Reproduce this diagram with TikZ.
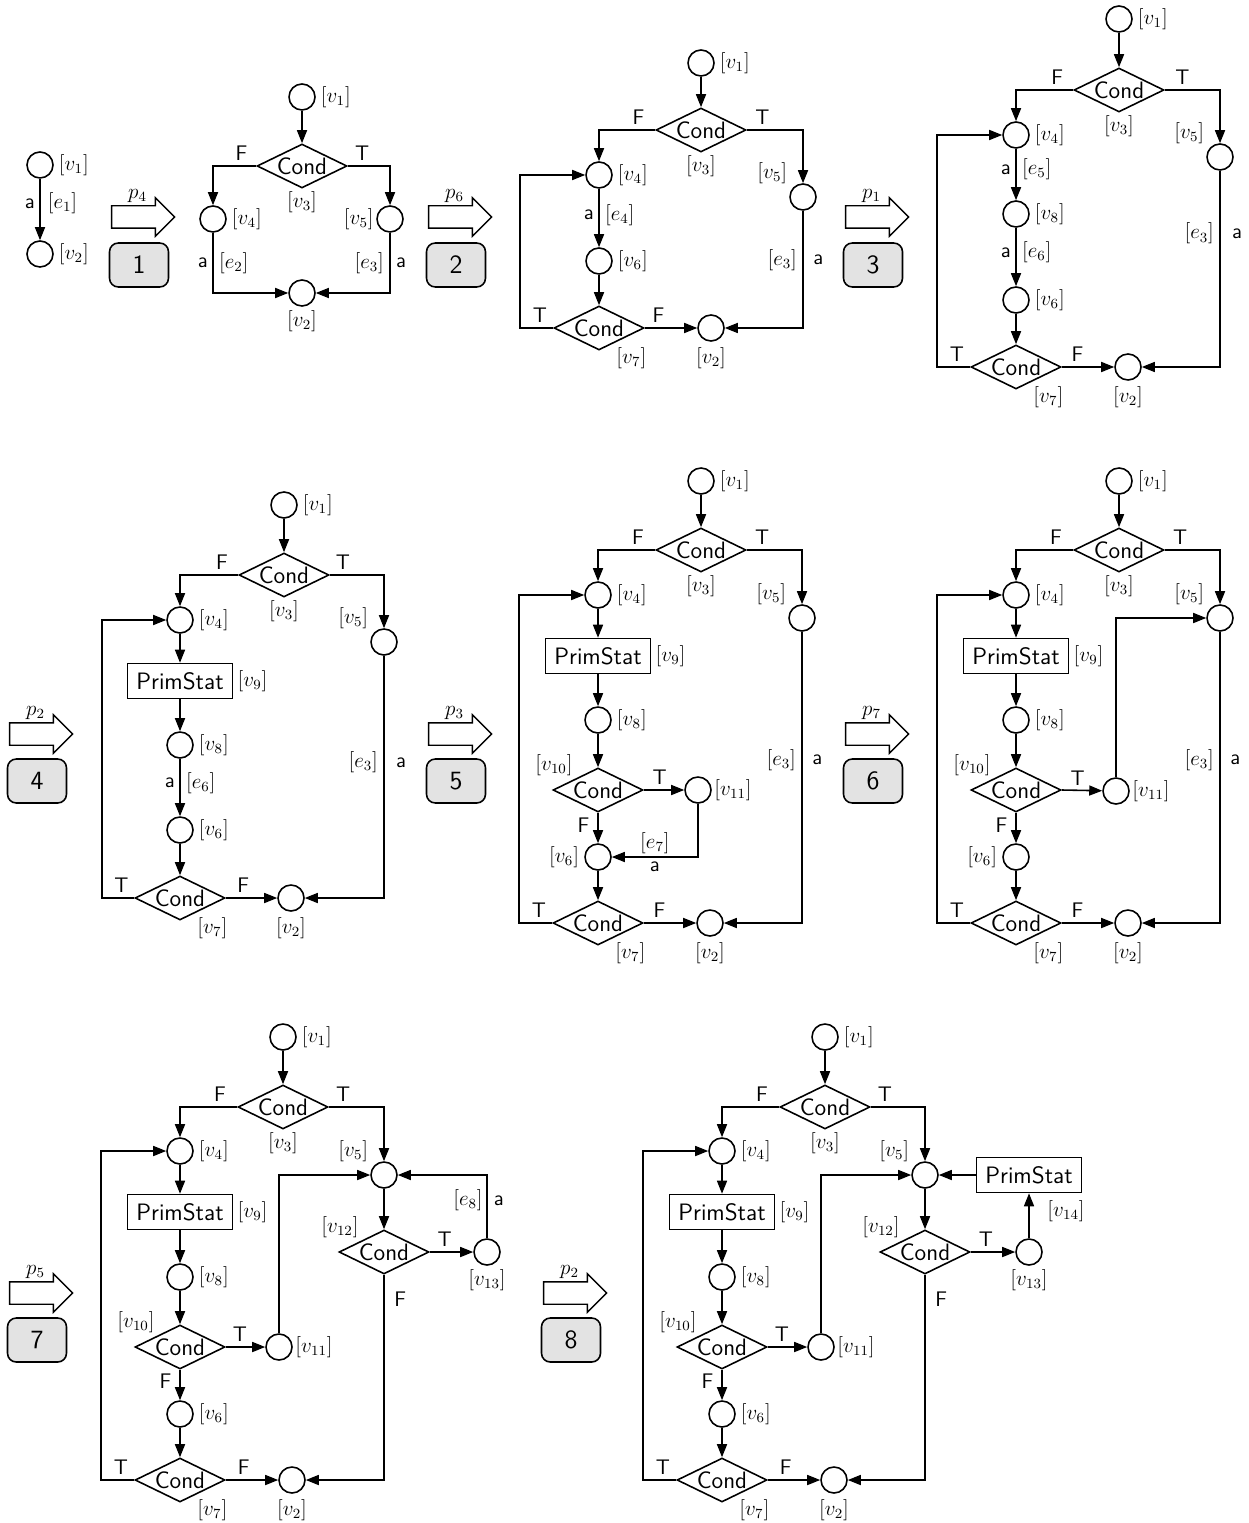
\documentclass[tikz,border=0pt]{standalone}
\usepackage{tikz}
\usetikzlibrary{arrows.meta,positioning,shapes.geometric,shapes.arrows}
\definecolor{stageFill}{HTML}{E3E3E3}

\begin{document}
\begin{tikzpicture}[
    x=0.02cm,y=-0.02cm,
    line width=0.9pt,
    vtx/.style={draw,circle,minimum size=5.2mm,inner sep=0pt},
    cnd/.style={draw,diamond,aspect=2,minimum width=18mm,minimum height=8.8mm,inner sep=0pt,
                font=\fontsize{13.5}{15}\selectfont\sffamily},
    prim/.style={draw,minimum width=21mm,minimum height=7mm,inner sep=0pt,
                 font=\fontsize{13.5}{15}\selectfont\sffamily},
    rarr/.style={draw,single arrow,single arrow head extend=1.6mm,minimum height=12.6mm,
                 inner xsep=0pt,inner ysep=2.1mm,line width=0.8pt},
    stagebox/.style={draw,fill=stageFill,rounded corners=5pt,minimum width=11.8mm,
                     minimum height=8.8mm,font=\fontsize{15}{17}\selectfont\sffamily},
    lbl/.style={inner sep=1pt,font=\fontsize{11.5}{13}\selectfont},
    tf/.style={inner sep=2.5pt,font=\fontsize{12}{14}\selectfont\sffamily},
    ar/.style={-{Stealth[length=2.6mm,width=2mm,inset=0pt]}}
  ]
  \useasboundingbox (0,0) rectangle (1248,1523);

  % ---- start graph
  \node[vtx] (g0v1) at (40,165) {};
  \node[vtx] (g0v2) at (40,254) {};
  \node[lbl,right=1.5pt of g0v1] (g0l1) {$[v_1]$};
  \node[lbl,right=1.5pt of g0v2] (g0l2) {$[v_2]$};
  \draw[ar] (g0v1) -- node[tf,left,pos=0.4] {a} node[lbl,right=3pt,pos=0.4] {$[e_1]$} (g0v2);

  % ---- production steps
  \node[rarr] (t1) at (137.5,217) {};
  \node[rarr] (t2) at (454.5,217) {};
  \node[rarr] (t3) at (871.5,217) {};
  \node[rarr] (t4) at (35.5,734) {};
  \node[rarr] (t5) at (454.5,734) {};
  \node[rarr] (t6) at (871.5,734) {};
  \node[rarr] (t7) at (35.5,1293) {};
  \node[rarr] (t8) at (569.5,1293) {};
  \node[lbl,above=0pt of t1] (t1p) {$p_4$};
  \node[lbl,above=0pt of t2] (t2p) {$p_6$};
  \node[lbl,above=0pt of t3] (t3p) {$p_1$};
  \node[lbl,above=0pt of t4] (t4p) {$p_2$};
  \node[lbl,above=0pt of t5] (t5p) {$p_3$};
  \node[lbl,above=0pt of t6] (t6p) {$p_7$};
  \node[lbl,above=0pt of t7] (t7p) {$p_5$};
  \node[lbl,above=0pt of t8] (t8p) {$p_2$};
  \node[stagebox] (k1) at (139,265) {1};
  \node[stagebox] (k2) at (456,265) {2};
  \node[stagebox] (k3) at (873,265) {3};
  \node[stagebox] (k4) at (37,781) {4};
  \node[stagebox] (k5) at (456,781) {5};
  \node[stagebox] (k6) at (873,781) {6};
  \node[stagebox] (k7) at (37,1340) {7};
  \node[stagebox] (k8) at (571,1340) {8};

  % ---- graph 1
  \node[vtx] (g1v1) at (302,97) {};
  \node[cnd] (g1v3) at (302,166) {Cond};
  \node[vtx] (g1v4) at (213,219) {};
  \node[vtx] (g1v5) at (390,219) {};
  \node[vtx] (g1v2) at (302,293) {};
  \node[lbl,right=1.5pt of g1v1] (g1l1) {$[v_1]$};
  \node[lbl,below=0pt of g1v3] (g1l3) {$[v_3]$};
  \node[lbl,right=1.5pt of g1v4] (g1l4) {$[v_4]$};
  \node[lbl,left=0pt of g1v5] (g1l5) {$[v_5]$};
  \node[lbl,below=0.5pt of g1v2] (g1l2) {$[v_2]$};
  \draw[ar] (g1v1) -- (g1v3);
  \draw[ar] (g1v3.west) -| node[tf,above,pos=0.17] {F} (g1v4);
  \draw[ar] (g1v3.east) -| node[tf,above,pos=0.17] {T} (g1v5);
  \draw[ar] (g1v4) |- node[tf,left,pos=0.25] {a} node[lbl,right=2pt,pos=0.25] {$[e_2]$} (g1v2);
  \draw[ar] (g1v5) |- node[lbl,left=2pt,pos=0.25] {$[e_3]$} node[tf,right=0.5pt,pos=0.25] {a} (g1v2);

  % ---- graph 2
  \node[vtx] (g2v1) at (701,63) {};
  \node[cnd] (g2v3) at (701,130) {Cond};
  \node[vtx] (g2v4) at (599,175) {};
  \node[vtx] (g2v5) at (803,197) {};
  \node[vtx] (g2v6) at (599,261) {};
  \node[cnd] (g2v7) at (599,328) {Cond};
  \node[vtx] (g2v2) at (711,328) {};
  \node[lbl,right=1.5pt of g2v1] (g2l1) {$[v_1]$};
  \node[lbl,below=0pt of g2v3] (g2l3) {$[v_3]$};
  \node[lbl,right=1.5pt of g2v4] (g2l4) {$[v_4]$};
  \node[lbl,above left=0.5pt and 2pt of g2v5] (g2l5) {$[v_5]$};
  \node[lbl,right=1.5pt of g2v6] (g2l6) {$[v_6]$};
  \node[lbl,below right=1.2mm and -1.6mm of g2v7] (g2l7) {$[v_7]$};
  \node[lbl,below=2pt of g2v2] (g2l2) {$[v_2]$};
  \draw[ar] (g2v1) -- (g2v3);
  \draw[ar] (g2v3.west) -| node[tf,above,pos=0.15] {F} (g2v4);
  \draw[ar] (g2v3.east) -| node[tf,above,pos=0.14] {T} (g2v5);
  \draw[ar] (g2v4) -- node[tf,left,pos=0.45] {a} node[lbl,right=2pt,pos=0.45] {$[e_4]$} (g2v6);
  \draw[ar] (g2v6) -- (g2v7);
  \draw[ar] (g2v7.east) -- node[tf,above,pos=0.26] {F} (g2v2);
  \draw[ar] (g2v7.west) -- node[tf,above,pos=0.4] {T} ++(-33,0) |- (g2v4);
  \draw[ar] (g2v5) |- node[lbl,left=2pt,pos=0.21] {$[e_3]$} node[tf,right=3pt,pos=0.21] {a} (g2v2);

  % ---- graph 3
  \node[vtx] (g3v1) at (1119,19) {};
  \node[cnd] (g3v3) at (1119,90) {Cond};
  \node[vtx] (g3v4) at (1016,135) {};
  \node[vtx] (g3v5) at (1220,157) {};
  \node[vtx] (g3v8) at (1016,214) {};
  \node[vtx] (g3v6) at (1016,300) {};
  \node[cnd] (g3v7) at (1016,367) {Cond};
  \node[vtx] (g3v2) at (1128,367) {};
  \node[lbl,right=1.5pt of g3v1] (g3l1) {$[v_1]$};
  \node[lbl,below=0pt of g3v3] (g3l3) {$[v_3]$};
  \node[lbl,right=1.5pt of g3v4] (g3l4) {$[v_4]$};
  \node[lbl,above left=0.5pt and 2pt of g3v5] (g3l5) {$[v_5]$};
  \node[lbl,right=1.5pt of g3v8] (g3l8) {$[v_8]$};
  \node[lbl,right=1.5pt of g3v6] (g3l6) {$[v_6]$};
  \node[lbl,below right=1.2mm and -1.6mm of g3v7] (g3l7) {$[v_7]$};
  \node[lbl,below=2pt of g3v2] (g3l2) {$[v_2]$};
  \draw[ar] (g3v1) -- (g3v3);
  \draw[ar] (g3v3.west) -| node[tf,above,pos=0.14] {F} (g3v4);
  \draw[ar] (g3v3.east) -| node[tf,above,pos=0.16] {T} (g3v5);
  \draw[ar] (g3v4) -- node[tf,left,pos=0.4] {a} node[lbl,right=2pt,pos=0.4] {$[e_5]$} (g3v8);
  \draw[ar] (g3v8) -- node[tf,left,pos=0.42] {a} node[lbl,right=2pt,pos=0.42] {$[e_6]$} (g3v6);
  \draw[ar] (g3v6) -- (g3v7);
  \draw[ar] (g3v7.east) -- node[tf,above,pos=0.3] {F} (g3v2);
  \draw[ar] (g3v7.west) -- node[tf,above,pos=0.4] {T} ++(-33,0) |- (g3v4);
  \draw[ar] (g3v5) |- node[lbl,left=2pt,pos=0.16] {$[e_3]$} node[tf,right=4pt,pos=0.16] {a} (g3v2);

  % ---- graph 4
  \node[vtx] (g4v1) at (284,505) {};
  \node[cnd] (g4v3) at (284,575) {Cond};
  \node[vtx] (g4v4) at (180,620) {};
  \node[vtx] (g4v5) at (384,642) {};
  \node[prim] (g4v9) at (180,681) {PrimStat};
  \node[vtx] (g4v8) at (180,745) {};
  \node[vtx] (g4v6) at (180,830) {};
  \node[cnd] (g4v7) at (180,898) {Cond};
  \node[vtx] (g4v2) at (291,898) {};
  \node[lbl,right=1.5pt of g4v1] (g4l1) {$[v_1]$};
  \node[lbl,below=0pt of g4v3] (g4l3) {$[v_3]$};
  \node[lbl,right=1.5pt of g4v4] (g4l4) {$[v_4]$};
  \node[lbl,above left=0.5pt and 2pt of g4v5] (g4l5) {$[v_5]$};
  \node[lbl,right=1pt of g4v9] (g4l9) {$[v_9]$};
  \node[lbl,right=1.5pt of g4v8] (g4l8) {$[v_8]$};
  \node[lbl,right=1.5pt of g4v6] (g4l6) {$[v_6]$};
  \node[lbl,below right=1.2mm and -1.6mm of g4v7] (g4l7) {$[v_7]$};
  \node[lbl,below=2pt of g4v2] (g4l2) {$[v_2]$};
  \draw[ar] (g4v1) -- (g4v3);
  \draw[ar] (g4v3.west) -| node[tf,above,pos=0.14] {F} (g4v4);
  \draw[ar] (g4v3.east) -| node[tf,above,pos=0.12] {T} (g4v5);
  \draw[ar] (g4v4) -- (g4v9);
  \draw[ar] (g4v9) -- (g4v8);
  \draw[ar] (g4v8) -- node[tf,left,pos=0.42] {a} node[lbl,right=2pt,pos=0.42] {$[e_6]$} (g4v6);
  \draw[ar] (g4v6) -- (g4v7);
  \draw[ar] (g4v7.east) -- node[tf,above,pos=0.34] {F} (g4v2);
  \draw[ar] (g4v7.west) -- node[tf,above,pos=0.4] {T} ++(-32,0) |- (g4v4);
  \draw[ar] (g4v5) |- node[lbl,left=2pt,pos=0.22] {$[e_3]$} node[tf,right=4pt,pos=0.22] {a} (g4v2);

  % ---- graph 5
  \node[vtx] (g5v1) at (701,481) {};
  \node[cnd] (g5v3) at (701,550) {Cond};
  \node[vtx] (g5v4) at (598,595) {};
  \node[vtx] (g5v5) at (802,618) {};
  \node[prim] (g5v9) at (598,656) {PrimStat};
  \node[vtx] (g5v8) at (598,720) {};
  \node[cnd] (g5v10) at (598,790) {Cond};
  \node[vtx] (g5v11) at (698,790) {};
  \node[vtx] (g5v6) at (598,857) {};
  \node[cnd] (g5v7) at (598,923) {Cond};
  \node[vtx] (g5v2) at (710,923) {};
  \node[lbl,right=1.5pt of g5v1] (g5l1) {$[v_1]$};
  \node[lbl,below=0pt of g5v3] (g5l3) {$[v_3]$};
  \node[lbl,right=1.5pt of g5v4] (g5l4) {$[v_4]$};
  \node[lbl,above left=0.5pt and 2pt of g5v5] (g5l5) {$[v_5]$};
  \node[lbl,right=1pt of g5v9] (g5l9) {$[v_9]$};
  \node[lbl,right=1.5pt of g5v8] (g5l8) {$[v_8]$};
  \node[lbl,above left=0pt of g5v10] (g5l10) {$[v_{10}]$};
  \node[lbl,right=0pt of g5v11] (g5l11) {$[v_{11}]$};
  \node[lbl,left=1.5pt of g5v6] (g5l6) {$[v_6]$};
  \node[lbl,below right=1.2mm and -1.6mm of g5v7] (g5l7) {$[v_7]$};
  \node[lbl,below=2pt of g5v2] (g5l2) {$[v_2]$};
  \draw[ar] (g5v1) -- (g5v3);
  \draw[ar] (g5v3.west) -| node[tf,above,pos=0.15] {F} (g5v4);
  \draw[ar] (g5v3.east) -| node[tf,above,pos=0.14] {T} (g5v5);
  \draw[ar] (g5v4) -- (g5v9);
  \draw[ar] (g5v9) -- (g5v8);
  \draw[ar] (g5v8) -- (g5v10);
  \draw[ar] (g5v10.east) -- node[tf,above,pos=0.39] {T} (g5v11);
  \draw[ar] (g5v10) -- node[tf,left=2pt,pos=0.4] {F} (g5v6);
  \draw[ar] (g5v11) |- node[lbl,above=0.5pt,pos=0.75] {$[e_7]$} node[tf,below,pos=0.75] {a} (g5v6);
  \draw[ar] (g5v6) -- (g5v7);
  \draw[ar] (g5v7.east) -- node[tf,above,pos=0.3] {F} (g5v2);
  \draw[ar] (g5v7.west) -- node[tf,above,pos=0.4] {T} ++(-33,0) |- (g5v4);
  \draw[ar] (g5v5) |- node[lbl,left=2pt,pos=0.22] {$[e_3]$} node[tf,right=3pt,pos=0.22] {a} (g5v2);

  % ---- graph 6
  \node[vtx] (g6v1) at (1119,481) {};
  \node[cnd] (g6v3) at (1119,550) {Cond};
  \node[vtx] (g6v4) at (1016,595) {};
  \node[vtx] (g6v5) at (1220,618) {};
  \node[prim] (g6v9) at (1016,656) {PrimStat};
  \node[vtx] (g6v8) at (1016,720) {};
  \node[cnd] (g6v10) at (1016,790) {Cond};
  \node[vtx] (g6v11) at (1116,791) {};
  \node[vtx] (g6v6) at (1016,857) {};
  \node[cnd] (g6v7) at (1016,923) {Cond};
  \node[vtx] (g6v2) at (1128,923) {};
  \node[lbl,right=1.5pt of g6v1] (g6l1) {$[v_1]$};
  \node[lbl,below=0pt of g6v3] (g6l3) {$[v_3]$};
  \node[lbl,right=1.5pt of g6v4] (g6l4) {$[v_4]$};
  \node[lbl,above left=0.5pt and 2pt of g6v5] (g6l5) {$[v_5]$};
  \node[lbl,right=1pt of g6v9] (g6l9) {$[v_9]$};
  \node[lbl,right=1.5pt of g6v8] (g6l8) {$[v_8]$};
  \node[lbl,above left=0pt of g6v10] (g6l10) {$[v_{10}]$};
  \node[lbl,right=0pt of g6v11] (g6l11) {$[v_{11}]$};
  \node[lbl,left=1.5pt of g6v6] (g6l6) {$[v_6]$};
  \node[lbl,below right=1.2mm and -1.6mm of g6v7] (g6l7) {$[v_7]$};
  \node[lbl,below=2pt of g6v2] (g6l2) {$[v_2]$};
  \draw[ar] (g6v1) -- (g6v3);
  \draw[ar] (g6v3.west) -| node[tf,above,pos=0.15] {F} (g6v4);
  \draw[ar] (g6v3.east) -| node[tf,above,pos=0.14] {T} (g6v5);
  \draw[ar] (g6v4) -- (g6v9);
  \draw[ar] (g6v9) -- (g6v8);
  \draw[ar] (g6v8) -- (g6v10);
  \draw[ar] (g6v10.east) -- node[tf,above,pos=0.39] {T} (g6v11);
  \draw[ar] (g6v10) -- node[tf,left=2pt,pos=0.4] {F} (g6v6);
  \draw[ar] (g6v11) |- (g6v5);
  \draw[ar] (g6v6) -- (g6v7);
  \draw[ar] (g6v7.east) -- node[tf,above,pos=0.3] {F} (g6v2);
  \draw[ar] (g6v7.west) -- node[tf,above,pos=0.4] {T} ++(-33,0) |- (g6v4);
  \draw[ar] (g6v5) |- node[lbl,left=2pt,pos=0.22] {$[e_3]$} node[tf,right=3pt,pos=0.22] {a} (g6v2);

  % ---- graph 7
  \node[vtx] (g7v1) at (283,1037) {};
  \node[cnd] (g7v3) at (283,1107) {Cond};
  \node[vtx] (g7v4) at (180,1151) {};
  \node[vtx] (g7v5) at (384,1175) {};
  \node[prim] (g7v9) at (180,1212) {PrimStat};
  \node[vtx] (g7v8) at (180,1277) {};
  \node[cnd] (g7v12) at (384,1252) {Cond};
  \node[vtx] (g7v13) at (487,1252) {};
  \node[cnd] (g7v10) at (180,1347) {Cond};
  \node[vtx] (g7v11) at (279,1347) {};
  \node[vtx] (g7v6) at (180,1414) {};
  \node[cnd] (g7v7) at (180,1480) {Cond};
  \node[vtx] (g7v2) at (292,1480) {};
  \node[lbl,right=1.5pt of g7v1] (g7l1) {$[v_1]$};
  \node[lbl,below=0pt of g7v3] (g7l3) {$[v_3]$};
  \node[lbl,right=1.5pt of g7v4] (g7l4) {$[v_4]$};
  \node[lbl,above left=0.5pt and 2pt of g7v5] (g7l5) {$[v_5]$};
  \node[lbl,right=1pt of g7v9] (g7l9) {$[v_9]$};
  \node[lbl,right=1.5pt of g7v8] (g7l8) {$[v_8]$};
  \node[lbl,above left=0pt of g7v12] (g7l12) {$[v_{12}]$};
  \node[lbl,below=0.5pt of g7v13] (g7l13) {$[v_{13}]$};
  \node[lbl,above left=0pt of g7v10] (g7l10) {$[v_{10}]$};
  \node[lbl,right=0pt of g7v11] (g7l11) {$[v_{11}]$};
  \node[lbl,right=1.5pt of g7v6] (g7l6) {$[v_6]$};
  \node[lbl,below right=1.2mm and -1.6mm of g7v7] (g7l7) {$[v_7]$};
  \node[lbl,below=2pt of g7v2] (g7l2) {$[v_2]$};
  \draw[ar] (g7v1) -- (g7v3);
  \draw[ar] (g7v3.west) -| node[tf,above,pos=0.15] {F} (g7v4);
  \draw[ar] (g7v3.east) -| node[tf,above,pos=0.13] {T} (g7v5);
  \draw[ar] (g7v4) -- (g7v9);
  \draw[ar] (g7v9) -- (g7v8);
  \draw[ar] (g7v8) -- (g7v10);
  \draw[ar] (g7v10.east) -- node[tf,above,pos=0.36] {T} (g7v11);
  \draw[ar] (g7v10) -- node[tf,left=2pt,pos=0.38] {F} (g7v6);
  \draw[ar] (g7v11) |- (g7v5);
  \draw[ar] (g7v5) -- (g7v12);
  \draw[ar] (g7v12.east) -- node[tf,above,pos=0.34] {T} (g7v13);
  \draw[ar] (g7v13) |- node[lbl,left=1pt,pos=0.3] {$[e_8]$} node[tf,right=1pt,pos=0.3] {a} (g7v5);
  \draw[ar] (g7v12.south) |- node[tf,right=3pt,pos=0.06] {F} (g7v2);
  \draw[ar] (g7v6) -- (g7v7);
  \draw[ar] (g7v7.east) -- node[tf,above,pos=0.34] {F} (g7v2);
  \draw[ar] (g7v7.west) -- node[tf,above,pos=0.4] {T} ++(-33,0) |- (g7v4);

  % ---- graph 8
  \node[vtx] (g8v1) at (825,1037) {};
  \node[cnd] (g8v3) at (825,1107) {Cond};
  \node[vtx] (g8v4) at (722,1151) {};
  \node[vtx] (g8v5) at (925,1175) {};
  \node[prim] (g8v14) at (1029,1175) {PrimStat};
  \node[prim] (g8v9) at (722,1212) {PrimStat};
  \node[vtx] (g8v8) at (722,1277) {};
  \node[cnd] (g8v12) at (925,1252) {Cond};
  \node[vtx] (g8v13) at (1029,1252) {};
  \node[cnd] (g8v10) at (722,1347) {Cond};
  \node[vtx] (g8v11) at (821,1347) {};
  \node[vtx] (g8v6) at (722,1414) {};
  \node[cnd] (g8v7) at (722,1480) {Cond};
  \node[vtx] (g8v2) at (834,1480) {};
  \node[lbl,right=1.5pt of g8v1] (g8l1) {$[v_1]$};
  \node[lbl,below=0pt of g8v3] (g8l3) {$[v_3]$};
  \node[lbl,right=1.5pt of g8v4] (g8l4) {$[v_4]$};
  \node[lbl,above left=0.5pt and 2pt of g8v5] (g8l5) {$[v_5]$};
  \node[lbl,below right=1mm and -7.5mm of g8v14] (g8l14) {$[v_{14}]$};
  \node[lbl,right=1pt of g8v9] (g8l9) {$[v_9]$};
  \node[lbl,right=1.5pt of g8v8] (g8l8) {$[v_8]$};
  \node[lbl,above left=0pt of g8v12] (g8l12) {$[v_{12}]$};
  \node[lbl,below=0.5pt of g8v13] (g8l13) {$[v_{13}]$};
  \node[lbl,above left=0pt of g8v10] (g8l10) {$[v_{10}]$};
  \node[lbl,right=0pt of g8v11] (g8l11) {$[v_{11}]$};
  \node[lbl,right=1.5pt of g8v6] (g8l6) {$[v_6]$};
  \node[lbl,below right=1.2mm and -1.6mm of g8v7] (g8l7) {$[v_7]$};
  \node[lbl,below=2pt of g8v2] (g8l2) {$[v_2]$};
  \draw[ar] (g8v1) -- (g8v3);
  \draw[ar] (g8v3.west) -| node[tf,above,pos=0.15] {F} (g8v4);
  \draw[ar] (g8v3.east) -| node[tf,above,pos=0.13] {T} (g8v5);
  \draw[ar] (g8v4) -- (g8v9);
  \draw[ar] (g8v9) -- (g8v8);
  \draw[ar] (g8v8) -- (g8v10);
  \draw[ar] (g8v10.east) -- node[tf,above,pos=0.36] {T} (g8v11);
  \draw[ar] (g8v10) -- node[tf,left=2pt,pos=0.38] {F} (g8v6);
  \draw[ar] (g8v11) |- (g8v5);
  \draw[ar] (g8v5) -- (g8v12);
  \draw[ar] (g8v12.east) -- node[tf,above,pos=0.34] {T} (g8v13);
  \draw[ar] (g8v13) -- (g8v14);
  \draw[ar] (g8v14) -- (g8v5);
  \draw[ar] (g8v12.south) |- node[tf,right=3pt,pos=0.06] {F} (g8v2);
  \draw[ar] (g8v6) -- (g8v7);
  \draw[ar] (g8v7.east) -- node[tf,above,pos=0.34] {F} (g8v2);
  \draw[ar] (g8v7.west) -- node[tf,above,pos=0.4] {T} ++(-33,0) |- (g8v4);
\end{tikzpicture}
\end{document}
